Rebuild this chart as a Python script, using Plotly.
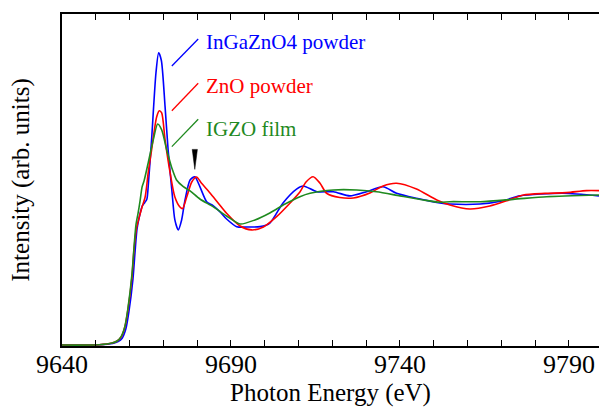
import plotly.graph_objects as go

# ---- data (arbitrary intensity units) ----
energy_ingazno4 = [9640, 9651, 9655, 9656.6, 9657.8, 9658.9, 9659.8, 9661.0, 9661.6, 9662.2, 9662.9,
                   9663.8, 9664.5, 9665.1, 9665.6, 9666.5, 9667.8, 9668.6, 9669.4, 9670.5, 9671.4,
                   9672.5, 9673.4, 9674.4, 9675.4, 9676.4, 9677.9, 9679.3, 9680.8, 9682.8, 9684.7,
                   9686.7, 9688.7, 9691.7, 9695.6, 9698.6, 9701.5, 9705.4, 9709.4, 9711.4, 9715.4,
                   9720.3, 9725.2, 9730.1, 9735.0, 9739.0, 9744.9, 9751.8, 9754.8, 9763.7, 9770.6,
                   9775.5, 9788.2, 9798.9]
int_ingazno4 = [0.006, 0.008, 0.016, 0.028, 0.05, 0.11, 0.22, 0.43, 0.60, 0.75, 0.83,
                0.90, 0.92, 0.94, 1.05, 1.32, 1.75, 1.88, 1.83, 1.534, 1.256,
                1.0, 0.808, 0.744, 0.808, 0.936, 1.064, 1.085, 1.021, 0.925, 0.90,
                0.861, 0.814, 0.765, 0.763, 0.765, 0.788, 0.917, 1.006, 1.026, 0.989,
                0.989, 0.962, 0.989, 1.021, 0.979, 0.947, 0.917, 0.910, 0.910, 0.931,
                0.962, 0.979, 0.962]

energy_zno = [9640, 9651, 9654.8, 9656.3, 9657.5, 9658.6, 9659.5, 9660.7, 9661.3, 9662.0, 9662.8,
              9663.6, 9664.6, 9665.5, 9666.5, 9668.0, 9668.8, 9669.5, 9670.5, 9672.0, 9673.4,
              9674.9, 9675.7, 9676.9, 9678.4, 9679.8, 9681.3, 9683.8, 9686.2, 9688.7, 9692.7,
              9696.1, 9699.6, 9703.5, 9707.5, 9710.4, 9712.2, 9714.3, 9716.3, 9718.3, 9722.2,
              9726.2, 9731.1, 9735.0, 9739.0, 9744.9, 9750.9, 9754.8, 9760.7, 9766.6, 9771.6,
              9776.5, 9782.9, 9789.3, 9795.2, 9798.9]
int_zno = [0.006, 0.008, 0.019, 0.032, 0.058, 0.122, 0.231, 0.442, 0.615, 0.75, 0.821,
           0.885, 0.955, 1.109, 1.256, 1.468, 1.508, 1.494, 1.321, 1.109, 0.955,
           0.891, 0.881, 0.955, 1.051, 1.083, 1.043, 0.981, 0.917, 0.851, 0.769,
           0.744, 0.763, 0.829, 0.917, 0.987, 1.051, 1.085, 1.045, 0.979, 0.952,
           0.949, 0.981, 1.026, 1.043, 1.006, 0.936, 0.904, 0.878, 0.897, 0.931,
           0.968, 0.978, 0.983, 0.996, 0.996]

energy_igzo = [9640, 9651, 9654.8, 9656.3, 9657.5, 9658.6, 9659.5, 9660.7, 9661.3, 9661.9, 9662.5,
               9663.1, 9663.7, 9664.3, 9665.5, 9667.0, 9668.3, 9669.5, 9671.0, 9672.5, 9673.9,
               9675.9, 9677.9, 9680.8, 9684.7, 9688.7, 9692.7, 9697.1, 9701.5, 9706.0, 9710.4,
               9713.4, 9720.3, 9727.2, 9733.1, 9740.0, 9746.9, 9751.8, 9754.8, 9763.7, 9773.5,
               9783.4, 9798.9]
int_igzo = [0.006, 0.008, 0.019, 0.032, 0.06, 0.125, 0.24, 0.46, 0.63, 0.78, 0.85,
            0.93, 1.02, 1.06, 1.173, 1.321, 1.423, 1.385, 1.256, 1.141, 1.064,
            1.021, 0.994, 0.942, 0.893, 0.833, 0.782, 0.808, 0.853, 0.910, 0.957,
            0.979, 1.0, 1.0, 0.989, 0.962, 0.936, 0.921, 0.925, 0.925, 0.940,
            0.957, 0.968]

series_names = ["InGaZnO4 powder", "ZnO powder", "IGZO film"]
series_colors = ["#0000ff", "#ff0000", "#1f8a1f"]

# label leader lines (energy, intensity) and text anchors
leader_e0, leader_e1 = 9672.5, 9680.3
leader_i0 = [1.795, 1.508, 1.278]
leader_i1 = [1.968, 1.684, 1.453]
label_e = 9682.0
label_i = [1.951, 1.667, 1.389]

# arrow mark above the post-edge feature
arrow_e, arrow_i = 9679.3, 1.132

x_range = [9640, 9798.9]
y_range = [0, 2.128]
x_tick0, x_dtick, x_minor_dtick = 9640, 50, 10

FONT = "Times New Roman, Liberation Serif, serif"

fig = go.Figure()
for e, i, name, col in zip([energy_ingazno4, energy_zno, energy_igzo],
                           [int_ingazno4, int_zno, int_igzo],
                           series_names, series_colors):
    fig.add_trace(go.Scatter(x=e, y=i, mode="lines", name=name,
                             line=dict(color=col, width=1.6, shape="spline", smoothing=0.7),
                             showlegend=False))

for k in range(3):
    fig.add_shape(type="line", xref="x", yref="y",
                  x0=leader_e0, x1=leader_e1, y0=leader_i0[k], y1=leader_i1[k],
                  line=dict(color=series_colors[k], width=1.3))
    fig.add_annotation(x=label_e, y=label_i[k], xref="x", yref="y", text=series_names[k],
                       showarrow=False, xanchor="left", yanchor="middle",
                       font=dict(family=FONT, size=21, color=series_colors[k]))

fig.add_shape(type="path", xref="x", yref="y", xsizemode="pixel", ysizemode="pixel",
              xanchor=arrow_e, yanchor=arrow_i,
              path="M 0 0 L -2.6 20 L 2.6 20 Z",
              fillcolor="black", line=dict(color="black", width=0.5))

fig.update_layout(
    width=599, height=410,
    margin=dict(l=62, r=0, t=14, b=64),
    paper_bgcolor="white", plot_bgcolor="white",
    font=dict(family=FONT, size=25, color="black"),
    xaxis=dict(range=x_range, tick0=x_tick0, dtick=x_dtick, tickformat="d",
               ticks="inside", ticklen=6, tickwidth=1.3, tickcolor="black",
               showline=True, linecolor="black", linewidth=1.5, mirror="ticks",
               showgrid=False, zeroline=False, automargin=False,
               ticklabelstandoff=-6,
               minor=dict(dtick=x_minor_dtick, tick0=x_tick0, ticks="inside", ticklen=6,
                          tickwidth=1.3, tickcolor="black", showgrid=False),
               tickfont=dict(family=FONT, size=26, color="black"),
               title=dict(text="Photon Energy (eV)", font=dict(family=FONT, size=25, color="black"),
                          standoff=6)),
    yaxis=dict(range=y_range, showticklabels=False, ticks="",
               showline=True, linecolor="black", linewidth=1.5,
               showgrid=False, zeroline=False, automargin=False,
               title=dict(text="Intensity (arb. units)", font=dict(family=FONT, size=25, color="black"),
                          standoff=24)),
)

fig.write_html("out.html", config={"displayModeBar": False},
               post_script="document.body.style.margin='0px';")
